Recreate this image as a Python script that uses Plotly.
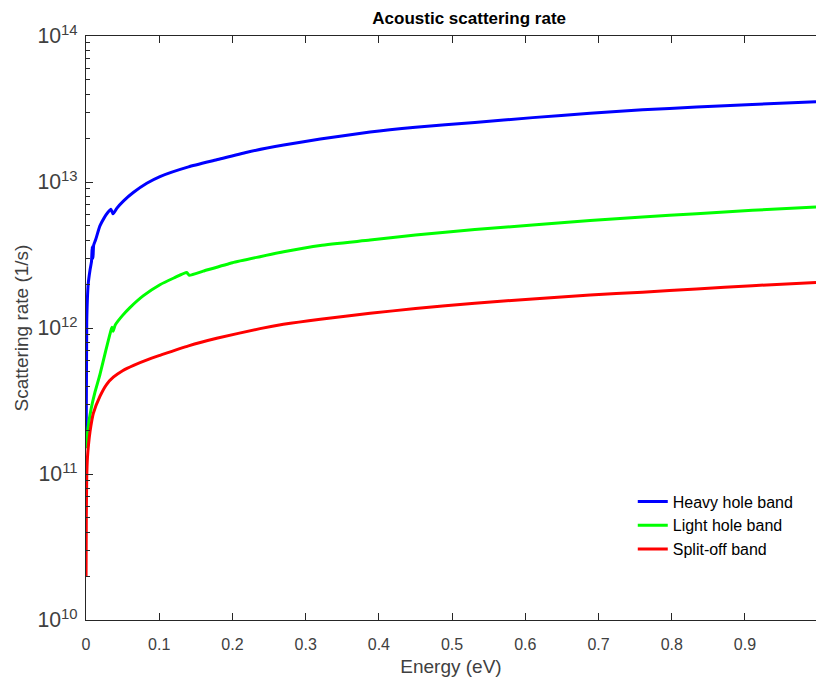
import plotly.graph_objects as go

# Energy grid (eV) and scattering rates (1/s) for each valence band
hh_energy = [0.0002, 0.001, 0.003, 0.0055, 0.0075, 0.0085, 0.0095, 0.0105, 0.013, 0.019,
             0.025, 0.030, 0.034, 0.037, 0.042, 0.051, 0.065, 0.083, 0.101, 0.14,
             0.1785, 0.22, 0.27, 0.32, 0.388, 0.45, 0.531, 0.61, 0.6885, 0.76,
             0.834, 0.91, 0.997]
hh_rate = [1.63e11, 1.1e12, 2.0e12, 2.5e12, 2.85e12, 3.6e12, 3.0e12, 3.7e12, 4.0e12, 5.0e12,
           5.7e12, 6.2e12, 6.5e12, 6.05e12, 6.6e12, 7.4e12, 8.5e12, 9.8e12, 1.09e13, 1.27e13,
           1.42e13, 1.6e13, 1.79e13, 1.97e13, 2.2e13, 2.37e13, 2.56e13, 2.76e13, 2.96e13, 3.12e13,
           3.26e13, 3.4e13, 3.55e13]

lh_energy = [0.0003, 0.003, 0.007, 0.012, 0.019, 0.027, 0.034, 0.0355, 0.037, 0.040,
             0.05, 0.06, 0.078, 0.101, 0.12, 0.1375, 0.141, 0.16, 0.2, 0.2377,
             0.27, 0.32, 0.388, 0.45, 0.531, 0.61, 0.6885, 0.76, 0.834, 0.91, 0.997]
lh_rate = [1.5e11, 2.1e11, 2.8e11, 3.6e11, 4.8e11, 7.0e11, 9.6e11, 1.01e12, 9.5e11, 1.05e12,
           1.22e12, 1.38e12, 1.66e12, 1.98e12, 2.2e12, 2.4e12, 2.3e12, 2.45e12, 2.8e12, 3.08e12,
           3.33e12, 3.68e12, 4.0e12, 4.33e12, 4.72e12, 5.08e12, 5.44e12, 5.76e12, 6.07e12, 6.4e12, 6.74e12]

so_energy = [0.0001, 0.0004, 0.001, 0.002, 0.0035, 0.0055, 0.01, 0.019, 0.028, 0.0373,
             0.05, 0.065, 0.087, 0.101, 0.14, 0.1785, 0.2377, 0.2696, 0.32, 0.388,
             0.45, 0.531, 0.61, 0.6885, 0.76, 0.834, 0.91, 0.997]
so_rate = [2.0e10, 5.0e10, 9.5e10, 1.3e11, 1.6e11, 1.95e11, 2.6e11, 3.4e11, 4.1e11, 4.6e11,
           5.1e11, 5.55e11, 6.15e11, 6.5e11, 7.55e11, 8.5e11, 9.9e11, 1.06e12, 1.15e12, 1.26e12,
           1.36e12, 1.48e12, 1.58e12, 1.68e12, 1.76e12, 1.85e12, 1.95e12, 2.05e12]

series = [
    ("Heavy hole band", hh_energy, hh_rate, "#0000ff"),
    ("Light hole band", lh_energy, lh_rate, "#00ff00"),
    ("Split-off band", so_energy, so_rate, "#ff0000"),
]

FONT = "Liberation Sans, Arial, Helvetica, sans-serif"
AX = "#262626"
TXT = "#404040"

fig = go.Figure()
for name, e, r, color in series:
    fig.add_trace(go.Scatter(x=e, y=r, mode="lines", name=name,
                             line=dict(color=color, width=3, shape="spline", smoothing=0.5)))

fig.update_layout(
    width=816, height=686,
    margin=dict(l=86, r=0, t=36, b=66),
    paper_bgcolor="white", plot_bgcolor="white",
    font=dict(family=FONT, color=AX),
    title=dict(text="<b>Acoustic scattering rate</b>", x=0.575, xanchor="center",
               y=1 - 18 / 686, yanchor="middle", font=dict(size=17, color="black")),
    showlegend=True,
    legend=dict(x=0.749, xanchor="left", y=0.232, yanchor="top",
                bgcolor="rgba(0,0,0,0)", font=dict(size=16, color="black"),
                tracegroupgap=0),
    xaxis=dict(range=[0, 0.997], tickvals=[0, 0.1, 0.2, 0.3, 0.4, 0.5, 0.6, 0.7, 0.8, 0.9],
               ticktext=["0", "0.1", "0.2", "0.3", "0.4", "0.5", "0.6", "0.7", "0.8", "0.9"],
               showgrid=False, zeroline=False, showline=True, linecolor=AX, linewidth=1,
               ticks="inside", ticklen=7, tickcolor=AX, mirror="ticks", ticklabelstandoff=10,
               tickfont=dict(size=16, color=TXT),
               title=dict(text="Energy (eV)", font=dict(size=19, color=TXT), standoff=7)),
    yaxis=dict(type="log", range=[10, 14], dtick=1, exponentformat="power",
               showgrid=False, zeroline=False, showline=True, linecolor=AX, linewidth=1,
               ticks="inside", ticklen=7, tickcolor=AX, ticklabelstandoff=4,
               minor=dict(ticks="inside", ticklen=4, tickcolor=AX, dtick="D1", showgrid=False),
               tickfont=dict(size=17, color=TXT),
               title=dict(text="Scattering rate (1/s)", font=dict(size=19, color=TXT), standoff=3)),
    yaxis2=dict(type="log", range=[10, 14], dtick=1, overlaying="y", side="right",
                showgrid=False, zeroline=False, showline=False, showticklabels=False,
                ticks="inside", ticklen=7, tickcolor=AX,
                minor=dict(ticks="inside", ticklen=4, tickcolor=AX, dtick="D1", showgrid=False)),
)

fig.write_html("out.html")
